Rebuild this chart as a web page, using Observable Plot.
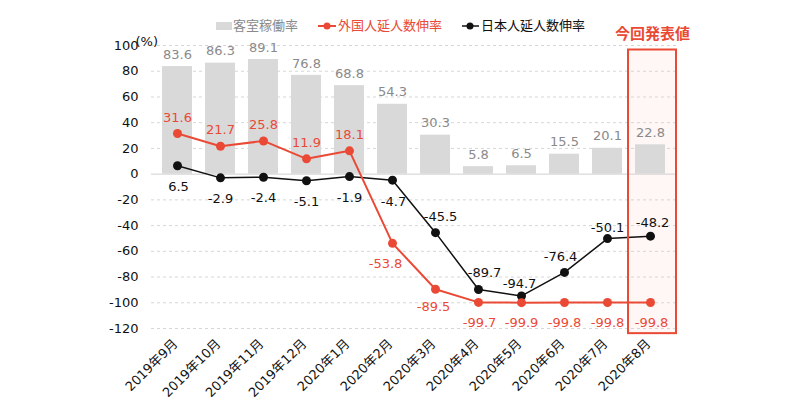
<!DOCTYPE html>
<html>
<head>
<meta charset="utf-8">
<script src="https://cdn.jsdelivr.net/npm/d3@7"></script>
<script src="https://cdn.jsdelivr.net/npm/@observablehq/plot@0.6"></script>
<style>
  html, body { margin: 0; padding: 0; background: #fff; }
  body { width: 800px; height: 419px; overflow: hidden; font-family: "DejaVu Sans", "Noto Sans CJK JP", sans-serif; }
  #legend { position: relative; width: 800px; height: 30px; font-size: 13px; }
  #legend span { position: absolute; top: 18px; line-height: 16px; white-space: nowrap; }
  #legend svg { position: absolute; left: 0; top: 0; }
</style>
</head>
<body>
<div id="legend">
  <svg width="800" height="30">
    <rect x="216" y="22" width="16" height="8" fill="#d9d9d9"></rect>
    <line x1="318" x2="336" y1="26" y2="26" stroke="#ea4a35" stroke-width="2"></line>
    <circle cx="327" cy="26" r="3.5" fill="#ea4a35"></circle>
    <line x1="462" x2="479" y1="26" y2="26" stroke="#111" stroke-width="1.5"></line>
    <circle cx="470" cy="26" r="3.5" fill="#111"></circle>
  </svg>
  <span style="left:233px;color:#8a8a8a">客室稼働率</span>
  <span style="left:338px;color:#ea4a35">外国人延人数伸率</span>
  <span style="left:481px;color:#111">日本人延人数伸率</span>
</div>
<div id="chart"></div>
<script>
const months = ["2019年9月","2019年10月","2019年11月","2019年12月","2020年1月","2020年2月","2020年3月","2020年4月","2020年5月","2020年6月","2020年7月","2020年8月"];
const occupancy = [83.6, 86.3, 89.1, 76.8, 68.8, 54.3, 30.3, 5.8, 6.5, 15.5, 20.1, 22.8];
const foreign = [31.6, 21.7, 25.8, 11.9, 18.1, -53.8, -89.5, -99.7, -99.9, -99.8, -99.8, -99.8];
const japanese = [6.5, -2.9, -2.4, -5.1, -1.9, -4.7, -45.5, -89.7, -94.7, -76.4, -50.1, -48.2];
const yTicks = [-120, -100, -80, -60, -40, -20, 0, 20, 40, 60, 80, 100];
const highlightMonth = "2020年8月";
const highlightTitle = "今回発表値";
const yUnit = "(%)";

// label placement (pixel offsets), kept separate from the data
const foreignOffsets = [[0,-16],[0,-16],[0,-16],[0,-16],[0,-16],[-7,20],[-2,18],[1,20],[0,20],[0,20],[0,20],[1,20]];
const japaneseOffsets = [[1,21],[0,21],[0,21],[0,21],[0,21],[1,22],[5,-16],[6,-17],[-2,-12],[-4,-16],[0,-11],[2,-13]];

const RED = "#ea4a35";
const BLACK = "#111111";
const GREY = "#d9d9d9";

const fmt = v => v.toFixed(1);
const rows = months.map((m, i) => ({m, occ: occupancy[i], fr: foreign[i], jp: japanese[i], i}));

const labelMarks = [];
rows.forEach((d, i) => {
  labelMarks.push(Plot.text([d], {x: "m", y: "fr", text: d => fmt(d.fr), fill: RED, dx: foreignOffsets[i][0], dy: foreignOffsets[i][1], fontSize: 13}));
  labelMarks.push(Plot.text([d], {x: "m", y: "jp", text: d => fmt(d.jp), fill: BLACK, dx: japaneseOffsets[i][0], dy: japaneseOffsets[i][1], fontSize: 13}));
});

const chart = Plot.plot({
  width: 800,
  height: 389,
  marginLeft: 151,
  marginRight: 124,
  marginTop: 15,
  marginBottom: 91,
  style: {fontFamily: "'DejaVu Sans', 'Noto Sans CJK JP', sans-serif", fontSize: "13px", background: "white", overflow: "visible"},
  x: {domain: months, paddingInner: 0.31, paddingOuter: 0.16, axis: null},
  y: {domain: [-120, 100], axis: null},
  marks: [
    Plot.barY([{m: highlightMonth}], {x: "m", y1: -124, y2: 96.5, fill: "#fff7f5", insetLeft: -7, insetRight: -11}),
    Plot.ruleY(yTicks.filter(t => t !== 0), {stroke: "#d6d6d6", strokeDasharray: "3,3", strokeWidth: 1}),
    Plot.barY(rows, {x: "m", y: "occ", fill: GREY}),
    Plot.ruleY([0], {stroke: "#d0d0d0", strokeWidth: 1}),
    Plot.text(rows, {x: "m", y: "occ", text: d => fmt(d.occ), fill: "#8a8a8a", dy: -12, fontSize: 13}),
    Plot.line(rows, {x: "m", y: "jp", stroke: BLACK, strokeWidth: 1.5}),
    Plot.dot(rows, {x: "m", y: "jp", r: 4.5, fill: BLACK}),
    Plot.line(rows, {x: "m", y: "fr", stroke: RED, strokeWidth: 2}),
    Plot.dot(rows, {x: "m", y: "fr", r: 4.5, fill: RED}),
    ...labelMarks,
    Plot.axisY(yTicks, {tickSize: 0, tickPadding: 13, fontSize: 13, fill: "#111", label: null, tickFormat: d => String(d)}),
    Plot.axisX({tickRotate: -45, tickSize: 0, tickPadding: 13, dx: -2, fontSize: 13, fill: "#111", label: null}),
    Plot.text([yUnit], {frameAnchor: "top-left", dx: -16, dy: -9, text: d => d, fontSize: 13, fill: "#111"}),
    Plot.barY([{m: highlightMonth}], {x: "m", y1: -124, y2: 96.5, fill: "none", stroke: RED, strokeWidth: 2, insetLeft: -7, insetRight: -11}),
    Plot.text([{m: highlightMonth}], {x: "m", y: 96.5, text: () => highlightTitle, fill: RED, fontWeight: "bold", fontSize: 15, dx: 2, dy: -16})
  ]
});
document.getElementById("chart").appendChild(chart);
</script>
</body>
</html>
